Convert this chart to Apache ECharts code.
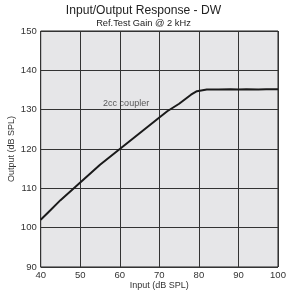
<!DOCTYPE html>
<html><head><meta charset="utf-8">
<script src="https://cdn.jsdelivr.net/npm/echarts@6/dist/echarts.min.js"></script>
<style>html,body{margin:0;padding:0;background:#fff}#c{width:287px;height:290px}</style>
</head><body><div id="c"></div>
<script>
const inputDb = [40,42,45,50,55,60,65,70,72,75,78,79.5,80,82,85,88,90,92,95,97,100];
const outputDb = [102,104,107,111.5,116,120,124,128,129.6,131.5,133.8,134.7,134.9,135.1,135.1,135.2,135.1,135.2,135.1,135.2,135.2];
const titleText = 'Input/Output Response - DW';
const subtitleText = 'Ref.Test Gain @ 2 kHz';
const annotation = {x: 61.6, y: 131.5, text: '2cc coupler'};
const F = 'Liberation Sans, Arial, sans-serif';
const chart = echarts.init(document.getElementById('c'));
chart.setOption({
  animation:false,
  backgroundColor:'#fff',
  title:[
    {text:titleText,left:'center',top:5,padding:0,textStyle:{fontFamily:F,fontSize:12.1,fontWeight:'normal',color:'#222'}},
    {text:subtitleText,left:'center',top:19,padding:0,textStyle:{fontFamily:F,fontSize:9.3,fontWeight:'normal',color:'#222'}}
  ],
  grid:{left:40.7,right:9,top:31,bottom:23,outerBoundsMode:'none',containLabel:false,show:true,backgroundColor:'#e6e6e8',borderColor:'#222',borderWidth:1},
  xAxis:{type:'value',min:40,max:100,interval:10,name:'Input (dB SPL)',nameLocation:'middle',nameGap:14,nameMoveOverlap:false,
    nameTextStyle:{fontFamily:F,fontSize:9,color:'#333'},
    axisLine:{show:false},axisTick:{show:false},
    axisLabel:{fontFamily:F,fontSize:9.5,color:'#333',margin:3},
    splitLine:{lineStyle:{color:'#333',width:1}}},
  yAxis:{type:'value',min:90,max:150,interval:10,name:'Output (dB SPL)',nameLocation:'middle',nameGap:25,nameMoveOverlap:false,
    nameTextStyle:{fontFamily:F,fontSize:9,color:'#333'},
    axisLine:{show:false},axisTick:{show:false},
    axisLabel:{fontFamily:F,fontSize:9.5,color:'#333',margin:4,verticalAlign:'middle',padding:[0,0,4,0]},
    splitLine:{lineStyle:{color:'#333',width:1}}},
  series:[{type:'line',data:inputDb.map((x,i)=>[x,outputDb[i]]),showSymbol:false,smooth:false,
    lineStyle:{color:'#1a1a1a',width:2}},
    {type:'scatter',data:[[annotation.x,annotation.y]],symbolSize:1,itemStyle:{color:'rgba(0,0,0,0)'},silent:true,
      label:{show:true,formatter:annotation.text,position:'inside',fontFamily:F,fontSize:9,color:'#333'}}
  ]
});
</script></body></html>
